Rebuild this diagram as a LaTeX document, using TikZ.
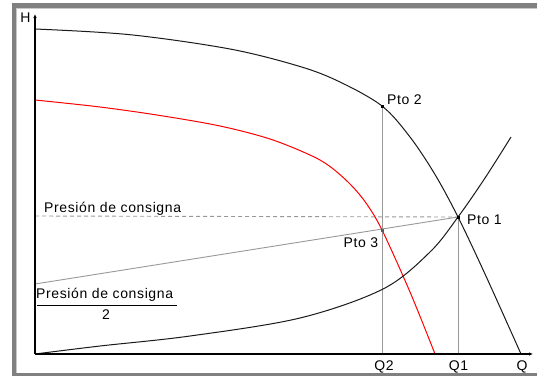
\documentclass[tikz,border=0pt]{standalone}
\usepackage{fontspec}
\setmainfont{Liberation Sans}[LetterSpace=4.5]
\usetikzlibrary{arrows.meta}
\definecolor{framegray}{HTML}{808080}
\definecolor{framelight}{HTML}{C8C8C8}
\definecolor{guide}{HTML}{999999}
\definecolor{curveblack}{HTML}{1A1A1A}
\begin{document}
\begin{tikzpicture}[x=1pt,y=-1pt,
  lbl/.style={inner sep=0pt,font=\fontsize{14}{16}\selectfont},
  axisline/.style={line width=1.2pt,black,-{Latex[length=4pt,width=3.5pt]}},
  curve/.style={line width=1pt,curveblack},
  redcurve/.style={line width=1pt,red},
  guideline/.style={line width=0.9pt,guide},
  dashline/.style={line width=0.9pt,guide,dash pattern=on 4pt off 3pt},
  dot/.style={fill=black,inner sep=0pt,minimum size=3pt,rectangle}]
\useasboundingbox (0,0) rectangle (537,376);
\fill[white] (0,0) rectangle (537,376);
% frame
\fill[framegray] (12,3) rectangle (537,7.5);
\fill[framegray] (12,3) rectangle (15.5,376);
\fill[framegray] (12,372.5) rectangle (537,376);
\fill[framelight] (15.5,7.5) rectangle (537,8.3);
\fill[framelight] (15.5,7.5) rectangle (16.3,372.5);
% key points
\coordinate (O) at (35,354);
\coordinate (ytop) at (35,14);
\coordinate (xend) at (533,354);
\coordinate (P1) at (458,217);
\coordinate (P2) at (382,106);
\coordinate (P3) at (382,230);
\coordinate (Q1a) at (458,354);
\coordinate (Q2a) at (382,354);
\coordinate (half) at (35,284);
\coordinate (dashstart) at (35,216);
% guide lines
\draw[dashline] (dashstart) -- (P1);
\draw[guideline] (half) -- (P1);
\draw[guideline] (P2) -- (Q2a);
\draw[guideline] (P1) -- (Q1a);
% pump curve (black)
\draw[curve] plot[smooth,tension=0.55] coordinates {(35,29) (130,34.7) (230,49) (300,66.5) (340,82) (P2) (410,137) (435,174.5) (P1) (485,274) (521,354)};
% reduced pump curve (red)
\draw[redcurve] plot[smooth,tension=0.55] coordinates {(35,100) (100,107) (160,115.5) (220,126) (270,139) (310,155) (330,166.5) (350,184) (366,203) (P3) (410,292) (435,354)};
% system curve
\draw[curve] plot[smooth,tension=0.55] coordinates {(O) (100,346) (190,336) (300,318) (383,289) (430,252) (P1) (485,178) (511,137)};
% axes
\draw[axisline] (O) -- (ytop);
\draw[axisline] (O) -- (xend);
% dots
\node[dot] (d1) at (P1) {};
\node[dot] (d2) at (P2) {};
\node[dot,fill=guide!60!black] (d3) at (P3) {};
% labels
\node[lbl] (H) at (25.5,18) {H};
\node[lbl,anchor=west] (l2) at (387,100) {Pto 2};
\node[lbl,anchor=west] (l1) at (467,219.5) {Pto 1};
\node[lbl,anchor=west] (l3) at (343.5,242.5) {Pto 3};
\node[lbl,anchor=base west] (pc) at (44,212) {Presión de consigna};
\node[lbl,anchor=base west] (pc2) at (36,298) {Presión de consigna};
\node[lbl,anchor=base] (two) at (106,319) {2};
\draw[line width=1pt,black] (37,305) -- (177,305);
\node[lbl] (q2) at (384,367) {Q2};
\node[lbl] (q1) at (458.5,367) {Q1};
\node[lbl] (q) at (522,367) {Q};
\end{tikzpicture}
\end{document}
